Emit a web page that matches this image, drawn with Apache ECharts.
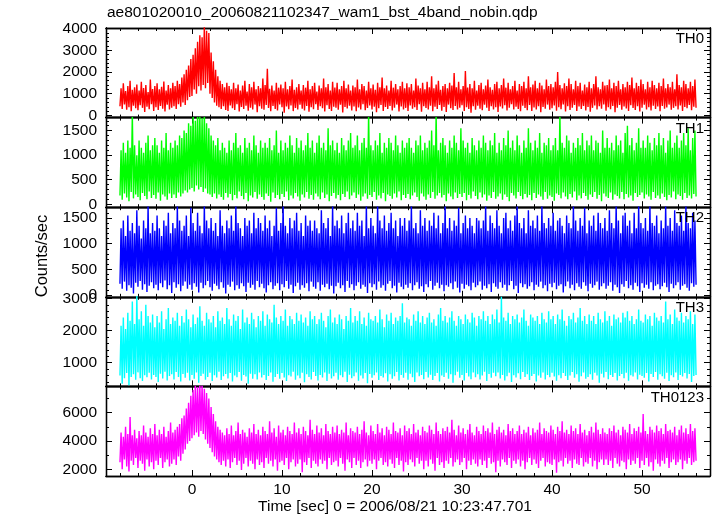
<!DOCTYPE html>
<html><head><meta charset="utf-8">
<script src="https://cdn.jsdelivr.net/npm/echarts@6/dist/echarts.min.js"></script>
<style>html,body{margin:0;padding:0;background:#fff}#c{width:717px;height:516px}</style>
</head><body><div id="c"></div>
<script>
// time of first sample and sample step (seconds)
const T_START = -8, T_STEP = 0.125;

const th0 = [
420,1250,300,1480,510,1120,260,1350,380,1600,190,1180,450,1300,330,1420,
240,1150,470,1550,350,1260,160,1400,400,1080,290,1650,520,1220,210,1350,
380,1480,250,1200,440,1320,310,1560,180,1150,490,1400,270,1250,360,1500,
430,1350,300,1600,520,1450,400,1750,600,1900,480,2100,700,2300,850,2600,
900,2800,1200,3100,1000,3400,1350,3700,1150,3600,1400,4100,1250,3900,1500,3800,
1000,2900,800,2500,600,2100,450,1800,380,1600,300,1450,420,1300,250,1500,
200,1350,460,1200,330,1500,250,1250,520,1420,180,1150,390,1380,300,1600,
450,1100,220,1450,360,1300,280,1550,500,1200,150,1350,420,1250,310,1700,
260,1400,480,2150,340,1230,190,1380,440,1150,300,1500,230,1280,510,1420,
380,1250,120,1550,410,1200,290,1350,460,1650,200,1180,350,1300,270,1450,
490,1150,310,1400,230,1280,440,1600,170,1200,380,1350,290,1500,520,1100,
250,1380,430,1250,330,1700,180,1300,470,1450,300,1150,210,1550,400,1280,
360,1500,260,1200,500,1350,140,1600,390,1250,320,1420,450,1150,230,1380,
410,1300,190,1650,370,1200,280,1450,520,1350,240,1150,340,1550,460,1250,
270,1420,400,1180,150,1500,330,1300,480,1750,210,1250,390,1380,300,1150,
440,1600,230,1280,360,1450,500,1200,180,1350,410,1550,280,1250,350,1480,
200,1300,460,1450,310,1150,380,1700,250,1380,520,1250,170,1500,430,1200,
340,1550,270,1300,450,1800,190,1250,400,1420,300,1600,480,1180,220,1350,
390,1450,160,1250,500,1500,330,1380,250,1950,440,1300,280,1550,360,1200,
470,1350,210,2050,380,1280,300,1450,130,1250,420,1600,260,1150,450,1400,
310,1500,240,1200,490,1380,350,1650,200,1300,430,1180,280,1450,380,1550,
160,1250,410,1400,320,1700,470,1280,230,1500,360,1200,520,1350,270,1600,
400,1150,300,1450,190,1350,450,1550,340,1250,240,1800,480,1300,210,1420,
370,1600,280,1250,430,1500,150,1380,390,1200,310,1650,500,1350,260,1450,
330,1300,460,1550,220,2000,380,1400,290,1250,510,1480,180,1350,420,1700,
250,1450,360,1200,480,1600,200,1350,410,1500,300,1150,440,1420,230,1300,
390,1550,170,1250,350,1450,460,1800,270,1300,420,1200,310,1550,500,1380,
220,1400,380,1650,290,1250,440,1500,150,1350,360,1600,480,1200,260,1450,
410,1300,320,1550,200,1400,470,1750,340,1250,250,1500,430,1350,180,1650,
360,1450,490,1200,270,1550,380,1300,230,1600,450,1400,300,1250,410,1500,
190,1350,440,1700,310,1250,370,1450,500,1300,260,1550,350,1200,420,1900,
280,1400,460,1300,210,1600,390,1450,330,1250,480,1550,240,1350,400,1650,
350];

const th1 = [
180,1100,90,1250,220,1050,140,1300,60,1150,250,1850,120,1200,200,1000,
150,1300,80,1150,230,1050,170,1250,100,1400,260,1100,130,1200,190,1350,
110,1200,240,1050,70,1300,200,1150,160,1450,90,1100,220,1250,130,1150,
200,1300,130,1200,240,1400,160,1350,220,1500,280,1450,240,1650,300,1600,
330,1850,260,1700,380,1900,300,1850,350,1750,250,1900,320,1650,220,1550,
200,1400,150,1300,220,1200,120,1350,200,1100,150,1250,90,1150,230,1050,
140,1300,210,1100,80,1250,190,1450,120,1150,260,1200,170,1050,100,1350,
230,1150,60,1250,180,1100,140,1400,250,1200,110,1050,200,1300,150,1150,
90,1250,220,1150,170,1350,50,1100,240,1200,130,1500,190,1050,100,1300,
210,1100,150,1250,260,1150,80,1400,180,1200,120,1050,230,1350,160,1150,
70,1300,200,1100,140,1200,250,1450,110,1150,190,1300,90,1050,220,1250,
160,1400,100,1150,240,1250,130,1100,200,1550,60,1200,170,1300,230,1100,
120,1250,190,1050,80,1350,210,1200,150,1100,260,1300,100,1450,180,1150,
240,1200,130,1400,200,1100,70,1250,160,1350,220,1150,110,1850,190,1200,
150,1100,250,1300,90,1200,180,1450,120,1050,230,1250,60,1150,200,1350,
170,1250,110,1100,220,1400,140,1200,260,1050,80,1300,190,1150,130,1250,
210,1350,100,1150,180,1050,240,1300,150,1200,70,1400,220,1100,160,1250,
90,1150,200,1300,130,1500,250,1200,110,1850,180,1100,230,1250,140,1350,
190,1200,60,1050,220,1300,160,1150,100,1400,240,1250,130,1100,210,1550,
150,1300,230,1150,80,1250,190,1050,120,1350,260,1200,170,1100,100,1300,
240,1150,140,1400,200,1250,70,1100,180,1300,130,1200,250,1450,110,1050,
160,1250,220,1100,90,1350,200,1200,150,1500,60,1150,230,1300,180,1100,
120,1400,250,1200,170,1050,100,1300,210,1150,140,1550,190,1250,80,1100,
230,1300,130,1150,200,1450,160,1050,90,1250,250,1200,110,1350,180,1100,
150,1200,70,1350,220,1100,190,1850,120,1250,240,1150,160,1400,100,1300,
210,1050,140,1250,260,1150,80,1350,180,1200,120,1450,230,1100,170,1300,
90,1200,200,1400,150,1100,250,1300,110,1250,190,1050,60,1500,220,1150,
160,1350,130,1150,240,1250,90,1100,200,1400,170,1200,120,1300,250,1050,
100,1450,210,1600,140,1200,180,1350,70,1100,230,1250,150,1550,190,1150,
240,1300,120,1150,200,1400,160,1250,90,1100,250,1350,130,1200,180,1450,
110,1200,220,1350,150,1050,80,1300,190,1500,140,1150,260,1250,100,1400,
200,1150,170,1300,90,1450,230,1200,130,1550,180,1100,120,1350,210,1500,
160];

const th2 = [
220,1300,120,1450,260,1150,80,1550,190,1250,140,1400,30,1200,240,1650,
160,1350,270,1100,100,1450,210,1300,60,1750,180,1200,250,1400,130,1250,
200,1550,90,1300,230,1150,150,1450,280,1350,110,1600,190,1200,40,1400,
250,1300,140,1750,210,1450,70,1250,180,1350,260,1550,120,1150,200,1700,
100,1400,230,1250,160,1600,50,1350,240,1200,130,1750,190,1450,270,1300,
150,1500,80,1250,220,1400,180,1150,110,1650,250,1350,140,1200,30,1450,
200,1300,160,1550,260,1250,90,1750,190,1400,120,1300,230,1150,170,1500,
60,1350,240,1450,140,1200,200,1600,100,1300,270,1500,150,1400,220,1250,
130,1550,50,1300,190,1450,250,1150,110,1350,180,1700,230,1250,90,1400,
210,1750,150,1350,270,1200,120,1500,200,1300,40,1450,170,1600,240,1250,
100,1400,190,1150,140,1550,230,1350,70,1450,260,1250,160,1450,120,1300,
250,1200,80,1650,200,1400,150,1300,220,1500,110,1150,180,1750,30,1350,
170,1450,240,1300,130,1550,190,1200,60,1400,270,1600,140,1300,210,1450,
90,1250,180,1600,250,1350,120,1450,200,1150,160,1750,40,1300,230,1500,
150,1350,210,1200,100,1750,260,1450,140,1300,190,1550,80,1250,220,1400,
270,1600,130,1300,180,1450,50,1150,240,1500,160,1350,110,1500,200,1250,
140,1450,230,1750,90,1300,190,1400,250,1200,120,1650,170,1350,60,1500,
210,1250,150,1450,270,1350,100,1600,180,1300,240,1550,130,1200,200,1400,
70,1750,190,1300,160,1500,230,1250,110,1450,260,1350,140,1700,50,1200,
220,1400,120,1550,200,1300,170,1500,90,1350,240,1200,150,1500,190,1450,
260,1300,100,1450,180,1750,130,1250,210,1550,60,1400,230,1300,160,1650,
120,1350,250,1200,140,1500,200,1600,80,1300,190,1450,270,1250,110,1550,
180,1750,40,1400,230,1300,150,1500,210,1200,120,1650,170,1350,250,1450,
90,1300,200,1550,160,1250,260,1750,130,1400,190,1300,70,1500,220,1350,
150,1600,240,1250,110,1450,180,1500,210,1350,50,1200,170,1550,260,1400,
130,1300,200,1750,90,1450,230,1250,160,1500,120,1350,250,1700,180,1200,
70,1450,220,1350,140,1550,190,1250,260,1600,100,1400,170,1300,230,1500,
120,1250,180,1650,250,1400,80,1300,200,1750,150,1450,40,1200,210,1550,
160,1600,270,1350,130,1450,190,1200,100,1600,240,1300,170,1750,60,1400,
230,1300,140,1500,200,1250,120,1750,250,1400,90,1350,180,1550,210,1200,
110,1450,170,1300,240,1750,150,1350,60,1500,220,1250,130,1650,190,1400,
250,1350,100,1550,180,1250,210,1750,140,1400,80,1300,230,1600,160,1450,
200];

const th3 = [
600,2150,350,2400,520,2050,680,2550,300,2300,560,2900,640,2200,470,3100,
700,2350,520,2600,430,2150,610,2800,550,2450,690,2250,480,2500,620,2100,
560,2450,400,2250,660,2600,510,2050,720,2350,450,2700,590,2200,640,2400,
480,2300,710,2550,560,2150,420,2450,650,2250,530,2650,690,2350,450,2100,
620,2500,500,2200,700,2400,380,2750,590,2300,660,2150,470,2550,560,2350,
690,2250,430,2450,610,2100,540,2600,720,2300,460,2400,580,2200,650,2700,
510,2350,680,2150,420,2500,600,2300,550,2450,710,2050,440,2650,620,2250,
570,2400,350,2200,660,2550,500,2350,640,2100,480,2450,700,2300,540,2600,
620,2150,460,2500,590,2350,700,2250,410,2800,560,2400,650,2200,500,2450,
680,2300,540,2650,430,2150,610,2450,570,2350,720,2200,470,2550,600,2300,
520,2500,690,2250,390,2400,640,2150,560,2600,480,2350,710,2450,590,2200,
450,2350,620,2550,540,2300,700,2100,430,2450,660,2650,510,2250,580,2400,
690,2200,470,2500,610,2350,550,2050,720,2450,400,2300,630,2700,520,2250,
580,2450,700,2300,440,2600,600,2200,510,2400,680,2150,360,2550,650,2350,
530,2300,610,2450,700,2250,460,2650,590,2350,540,2100,670,2500,420,2300,
640,2550,500,2200,580,2400,710,2300,450,2450,620,2850,530,2250,690,2400,
470,2350,660,2150,550,2500,400,2300,700,2600,580,2250,620,2450,490,2200,
710,2400,540,2550,630,2250,460,2350,590,2150,680,2500,420,2700,600,2300,
560,2450,690,2250,500,2400,640,2600,380,2300,610,2150,720,2450,530,2350,
620,2200,450,2500,680,2350,570,2250,490,2550,700,2400,550,2150,640,2450,
480,2350,600,2600,720,2300,430,2450,650,2200,530,2500,690,2350,580,2650,
700,2250,510,3050,620,2400,450,2300,580,2550,690,2200,400,2450,610,2350,
540,2500,670,2250,490,2400,710,2650,560,2300,640,2150,460,2500,590,2400,
650,2300,420,2450,600,2200,530,2550,700,2350,480,2250,620,2600,550,2350,
690,2450,570,2200,440,2500,610,2350,520,2650,680,2300,590,2150,460,2450,
600,2350,710,2550,530,2250,640,2400,410,2700,580,2300,700,2450,500,2200,
560,2500,640,2300,470,2450,690,2200,600,2550,380,2350,660,2250,540,2600,
710,2300,490,2450,620,2150,560,2500,680,2350,450,2400,590,2250,650,2550,
520,2400,690,2600,440,2300,610,2450,570,2200,700,2350,480,2650,630,2300,
590,2250,530,2500,680,2350,420,2450,650,2150,560,2550,710,2400,470,2300,
640,2450,580,2250,500,2900,690,2350,430,2500,610,2200,550,2650,700,2400,
460,2300,620,2550,570,2250,680,2450,510,2350,650,2600,400,2200,590,2500,
620];

const th0123 = [
2500,4600,2000,4300,2700,5000,2200,4500,1850,5700,2600,4400,2300,4800,2800,4200,
2100,4700,2600,4400,2400,5100,1900,4600,2700,4300,2200,4900,2500,4500,2000,5200,
2600,4400,2300,4800,2800,4500,2100,5000,2500,4300,2700,4700,2200,5300,2400,4600,
2700,4800,2300,5000,2900,5200,2600,5600,3100,5800,3400,6300,3800,6700,4000,7200,
4200,7600,4400,8000,4600,7800,4300,8000,4700,8000,4500,7700,4100,7400,3800,7000,
3500,6400,3200,5900,2900,5400,2700,5000,2500,4800,2300,4600,2600,4400,2200,4900,
2700,4500,2100,5100,2500,4400,2800,4700,2300,5300,2600,4500,1950,4800,2400,4600,
2800,4300,2200,4900,2600,4600,2400,5200,2000,4500,2700,4800,2300,4400,2500,5000,
2100,4700,2800,4500,2400,5400,2600,4600,2200,4900,2700,4300,1900,5100,2500,4600,
2600,4800,2300,4400,2800,5000,2000,4700,2500,4500,2700,5300,2200,4600,2400,4900,
2700,4500,1800,5000,2500,4700,2300,4400,2800,5500,2100,4800,2600,4500,2400,5100,
2200,4600,2700,4900,2400,4400,2600,5200,2000,4700,2800,4500,2300,5000,2500,4600,
2600,5100,2200,4500,2800,4800,2400,4600,1900,5300,2700,4400,2500,4900,2100,4700,
2800,4600,2300,5000,2600,4500,2100,4800,2500,5400,2700,4600,2200,4400,2600,5100,
2400,4700,2700,4500,2000,5200,2600,4600,2800,4900,2300,4400,2500,5000,2200,4800,
2700,4500,2400,5300,2100,4700,2800,4600,2300,4900,2600,4400,1850,5100,2500,4700,
2300,4900,2700,4500,2500,5200,2200,4600,2800,4800,2400,4400,2600,5000,2000,4700,
2600,4600,2200,5100,2700,4800,2400,4500,1900,5300,2800,4700,2300,4500,2500,4900,
2100,4700,2600,5000,2400,4600,2800,5500,2200,4800,2500,4400,2700,5100,2300,4600,
2500,4900,2800,4500,2000,4800,2600,5200,2300,4600,2700,4400,2400,5000,2200,4700,
2700,4500,2300,5100,2600,4700,2100,4900,2800,4600,2400,5300,2500,4500,1800,4800,
2600,5000,2200,4600,2700,4800,2500,4400,2300,5200,2800,4700,2100,4900,2600,4500,
2400,4700,2700,5100,2200,4500,2600,4800,2000,4600,2500,5000,2800,4400,2300,4900,
2700,4600,2400,4800,2100,5300,2600,4500,2800,4900,2200,4700,2500,4600,2400,5100,
2300,4800,2700,4500,1750,5000,2500,4700,2600,5400,2200,4600,2800,4800,2400,4500,
2600,5100,2100,4700,2700,4900,2400,4500,2300,5200,2800,4600,2200,4800,2500,4400,
2400,4700,2800,5000,2200,4600,2600,5300,2000,4800,2500,4500,2700,4900,2300,4600,
2700,4500,2300,4900,2600,4700,2100,5100,2800,4600,2400,4800,2200,4400,2600,5000,
2500,4800,2000,4600,2700,5200,2300,4500,2600,4900,2400,4700,2800,5000,2100,4600,
2600,5900,2300,4700,2800,4500,2200,5000,2500,4800,1900,4600,2700,5100,2400,4700,
2200,4900,2600,4500,2400,5200,2800,4700,2100,4800,2500,4600,2700,5000,2300,4400,
2500,4800,2700,5100,2000,4600,2600,4900,2400,4500,2800,5200,2300,4700,2500,4900,
2600];

const panelNames = ['TH0', 'TH1', 'TH2', 'TH3', 'TH0123'];
const panelData = [th0, th1, th2, th3, th0123];
const panelColors = ['#ff0000', '#00ff00', '#0000ff', '#00ffff', '#ff00ff'];
const yMins = [-100, -60, -36, 264, 1527];
const yMaxs = [4030, 1765, 1710, 3047, 7860];
const yMajorTicks = [[0,1000,2000,3000,4000],[0,500,1000,1500],[0,500,1000,1500],[1000,2000,3000],[2000,4000,6000]];
const yMinorStep = [200, 100, 100, 200, 1000];
const xMajorTicks = [0, 10, 20, 30, 40, 50];
const xMinorStep = 2;
const X_MIN = -9.55, X_MAX = 57.55;

const titleText = 'ae801020010_20060821102347_wam1_bst_4band_nobin.qdp';
const xTitle = 'Time [sec] 0 = 2006/08/21 10:23:47.701';
const yTitle = 'Counts/sec';

const FONT = 'Liberation Sans, Arial, Helvetica, sans-serif';
const L = 106, R = 710, TOP = 28, BOT = 476, PH = (BOT - TOP) / 5;

function minorVals(min, max, step, majors) {
  const out = [];
  for (let v = Math.ceil(min / step) * step; v <= max; v += step) {
    if (!majors.includes(v)) out.push(v);
  }
  return out;
}

const grids = [], xAxes = [], yAxes = [], series = [], graphics = [];
const lineCol = '#000';
const plain = v => String(v);

function mkX(g, pos, vals, len, labels) {
  return {
    type: 'value', gridIndex: g, position: pos, min: X_MIN, max: X_MAX,
    axisLine: { show: true, onZero: false, lineStyle: { color: lineCol, width: 1.3 } },
    axisTick: { show: true, inside: true, length: len, customValues: vals, lineStyle: { color: lineCol, width: 1 } },
    axisLabel: labels ? { show: true, customValues: vals, formatter: plain, color: '#000', fontFamily: FONT, fontSize: 15.5, margin: 6 } : { show: false },
    splitLine: { show: false }
  };
}
function mkY(g, pos, mn, mx, vals, len, labels) {
  return {
    type: 'value', gridIndex: g, position: pos, min: mn, max: mx,
    axisLine: { show: true, onZero: false, lineStyle: { color: lineCol, width: 1.3 } },
    axisTick: { show: true, inside: true, length: len, customValues: vals, lineStyle: { color: lineCol, width: 1 } },
    axisLabel: labels ? { show: true, customValues: vals, formatter: plain, color: '#000', fontFamily: FONT, fontSize: 15.5, margin: 9 } : { show: false },
    splitLine: { show: false }
  };
}

const xMinor = minorVals(-8, 56, xMinorStep, xMajorTicks);

for (let p = 0; p < 5; p++) {
  const top = TOP + p * PH;
  grids.push({ left: L, width: R - L, top: top, height: PH, containLabel: false });
  const xi = xAxes.length;
  xAxes.push(mkX(p, 'bottom', xMajorTicks, 6, p === 4));
  xAxes.push(mkX(p, 'bottom', xMinor, 3, false));
  xAxes.push(mkX(p, 'top', xMajorTicks, 6, false));
  xAxes.push(mkX(p, 'top', xMinor, 3, false));
  const yi = yAxes.length;
  const ymin = minorVals(yMins[p], yMaxs[p], yMinorStep[p], yMajorTicks[p]);
  yAxes.push(mkY(p, 'left', yMins[p], yMaxs[p], yMajorTicks[p], 6, true));
  yAxes.push(mkY(p, 'left', yMins[p], yMaxs[p], ymin, 3, false));
  yAxes.push(mkY(p, 'right', yMins[p], yMaxs[p], yMajorTicks[p], 6, false));
  yAxes.push(mkY(p, 'right', yMins[p], yMaxs[p], ymin, 3, false));
  const arr = panelData[p];
  series.push({
    type: 'line', xAxisIndex: xi, yAxisIndex: yi,
    data: arr.map((v, i) => [T_START + i * T_STEP, v]),
    showSymbol: false, symbol: 'none', clip: true, silent: true,
    lineStyle: { color: panelColors[p], width: 1.4, join: 'miter' },
    itemStyle: { color: panelColors[p] },
    animation: false, z: 1
  });
  graphics.push({
    type: 'text', x: 704, y: top + 11,
    style: { text: panelNames[p], font: '15px ' + FONT, fill: '#000', align: 'right', textAlign: 'right', verticalAlign: 'middle', textVerticalAlign: 'middle' },
    z: 100
  });
}

graphics.push({ type: 'text', x: 107, y: 13,
  style: { text: titleText, font: '15.5px ' + FONT, fill: '#000', align: 'left', textAlign: 'left', verticalAlign: 'middle', textVerticalAlign: 'middle' } });
graphics.push({ type: 'text', x: 395, y: 507,
  style: { text: xTitle, font: '15.5px ' + FONT, fill: '#000', align: 'center', textAlign: 'center', verticalAlign: 'middle', textVerticalAlign: 'middle' } });
graphics.push({ type: 'text', x: 42, y: 256, rotation: Math.PI / 2,
  style: { text: yTitle, font: '16.5px ' + FONT, fill: '#000', align: 'center', textAlign: 'center', verticalAlign: 'middle', textVerticalAlign: 'middle' } });

const chart = echarts.init(document.getElementById('c'), null, { renderer: 'canvas' });
chart.setOption({
  animation: false,
  backgroundColor: '#fff',
  grid: grids, xAxis: xAxes, yAxis: yAxes, series: series,
  graphic: graphics
});
</script>
</body></html>
